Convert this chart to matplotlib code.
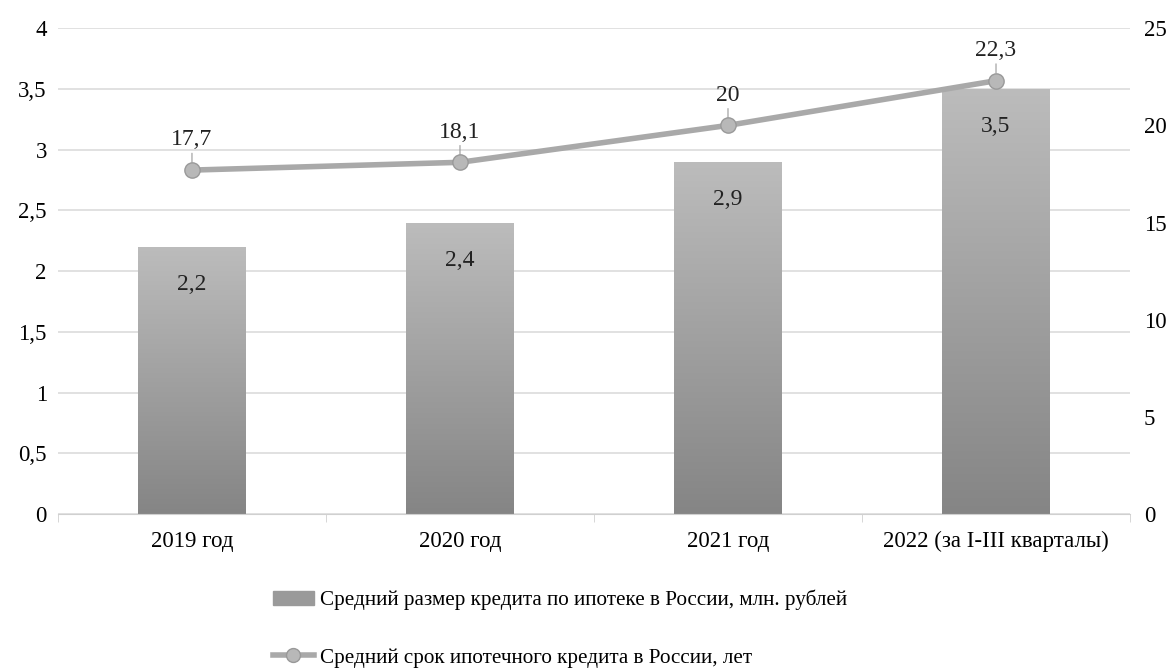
import numpy as np
import matplotlib.pyplot as plt
from matplotlib.colors import LinearSegmentedColormap

years = ['2019 год', '2020 год', '2021 год', '2022 (за I-III кварталы)']
loan_size = [2.2, 2.4, 2.9, 3.5]
loan_term = [17.7, 18.1, 20, 22.3]
size_labels = ['2,2', '2,4', '2,9', '3,5']
term_labels = ['17,7', '18,1', '20', '22,3']
left_ticks = [0, 0.5, 1, 1.5, 2, 2.5, 3, 3.5, 4]
left_tick_labels = ['0', '0,5', '1', '1,5', '2', '2,5', '3', '3,5', '4']
right_ticks = [0, 5, 10, 15, 20, 25]

bar_name = 'Средний размер кредита по ипотеке в России, млн. рублей'
line_name = 'Средний срок ипотечного кредита в России, лет'

plt.rcParams['font.family'] = ['Liberation Serif', 'DejaVu Serif']


def main():
	fig = plt.figure(figsize=(11.71, 6.72), dpi=100)
	ax = fig.add_axes([0.0495, 0.235, 0.9155, 0.723])
	ax2 = ax.twinx()

	x = np.arange(len(years))
	bars = ax.bar(x, loan_size, width=0.4, color='#a0a0a0', zorder=2)

	# gradient fill for bars
	cmap = LinearSegmentedColormap.from_list('g', ['#858585', '#bcbcbc'])
	grad = np.linspace(0, 1, 256).reshape(-1, 1)
	for b in bars:
		bx, by = b.get_x(), b.get_y()
		w, h = b.get_width(), b.get_height()
		im = ax.imshow(grad, cmap=cmap, origin='lower', aspect='auto',
					   extent=[bx, bx + w, by, by + h], zorder=2.5)
		im.set_clip_path(b)

	for xi, v, lab in zip(x, loan_size, size_labels):
		ax.text(xi, v - 0.31, lab, ha='center', va='center', fontsize=17, color='#222222', zorder=4)

	ax.set_xlim(-0.5, len(years) - 0.5)
	ax.set_ylim(0, 4)
	ax.set_yticks(left_ticks)
	ax.set_yticklabels(left_tick_labels)
	ax.set_xticks(x)
	ax.set_xticklabels(years)
	ax.set_xticks(np.arange(-0.5, len(years)), minor=True)
	ax.tick_params(axis='x', which='major', length=0, pad=12, labelsize=16.5)
	ax.tick_params(axis='x', which='minor', length=6, color='#d0d0d0')
	ax.tick_params(axis='y', length=0, pad=8, labelsize=16.5)
	ax.yaxis.grid(True, color='#dcdcdc', linewidth=1.2, zorder=0)
	ax.set_axisbelow(True)
	for s in ['top', 'right', 'left']:
		ax.spines[s].set_visible(False)
	ax.spines['bottom'].set_color('#d0d0d0')

	ax2.plot(x, loan_term, color='#a9a9a9', linewidth=4, marker='o', markersize=11,
			 markerfacecolor='#b8b8b8', markeredgecolor='#999999', markeredgewidth=1, zorder=5)
	for xi, v, lab in zip(x, loan_term, term_labels):
		ax2.annotate(lab, xy=(xi, v + 0.4), xytext=(xi, v + 1.55), ha='center', va='center',
					 fontsize=17, color='#222222',
					 arrowprops=dict(arrowstyle='-', color='#999999', lw=0.8, shrinkA=9, shrinkB=0))
	ax2.set_ylim(0, 25)
	ax2.set_yticks(right_ticks)
	ax2.tick_params(axis='y', length=0, pad=10, labelsize=16.5)
	for s in ['top', 'right', 'left', 'bottom']:
		ax2.spines[s].set_visible(False)

	# legend entries stacked
	h1 = plt.Rectangle((0, 0), 1, 1, color='#9a9a9a')
	h2, = ax.plot([], [], color='#a9a9a9', linewidth=4, marker='o', markersize=10,
				  markerfacecolor='#b8b8b8', markeredgecolor='#999999')
	fig.legend([h1], [bar_name], loc='center left', bbox_to_anchor=(0.233, 0.107), frameon=False,
			   fontsize=15.2, handlelength=1.95, handletextpad=0.3, handleheight=0.6, borderpad=0,
			   borderaxespad=0)
	fig.legend([h2], [line_name], loc='center left', bbox_to_anchor=(0.233, 0.021), frameon=False,
			   fontsize=15.2, handlelength=1.95, handletextpad=0.3, borderpad=0, borderaxespad=0)

	fig.savefig('out.png', dpi=100)


if __name__ == '__main__':
	main()
